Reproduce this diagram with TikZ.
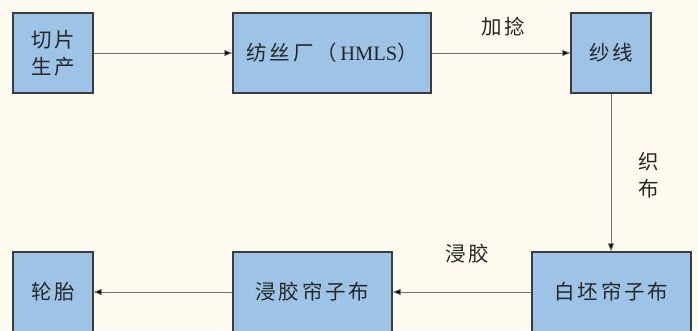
\documentclass[tikz,border=0pt]{standalone}
\usepackage{fontspec}
\newfontfamily\cjk[LetterSpace=14]{Noto Sans CJK SC}
\newfontfamily\lat{Liberation Serif}
\usetikzlibrary{arrows.meta}
\definecolor{bgc}{HTML}{FEFAF0}
\definecolor{boxfill}{HTML}{9DC3E6}
\definecolor{boxline}{HTML}{3C3C3C}
\definecolor{arrline}{HTML}{707070}
\tikzset{
  box/.style={draw=boxline, line width=1.3pt, fill=boxfill, rectangle, inner sep=0pt,
    minimum height=80pt, font=\cjk\fontsize{20.5}{27}\selectfont, align=center, text=black!85},
  flow/.style={draw=arrline, line width=0.8pt, -{Triangle[length=8pt,width=6pt,fill=black]}},
  lbl/.style={font=\cjk\fontsize{20.5}{27}\selectfont, text=black!85, inner sep=0pt, align=center}
}
\begin{document}
\begin{tikzpicture}[x=1pt,y=-1pt]
\useasboundingbox (0,0) rectangle (698,330);
\fill[bgc] (0,0) rectangle (698,330);
\clip (0,0) rectangle (698,330);
\node[box, minimum width=80pt] (qp) at (53,53) {切片\\生产};
\node[box, minimum width=198pt] (fs) at (332,53) {纺丝厂（\,{\lat HMLS}）};
\node[box, minimum width=80pt] (sx) at (611,53) {纱线};
\node[box, minimum width=159pt] (bp) at (611.5,292) {白坯帘子布};
\node[box, minimum width=159pt] (jj) at (312.5,292) {浸胶帘子布};
\node[box, minimum width=80pt] (lt) at (53,292) {轮胎};
\draw[flow] (qp.east) -- (fs.west);
\draw[flow] (fs.east) -- (sx.west);
\draw[flow] (sx.south) -- (bp.north -| sx.south);
\draw[flow] (bp.west) -- (jj.east);
\draw[flow] (jj.west) -- (lt.east);
\node[lbl] (l1) at (503,27) {加捻};
\node[lbl] (l2) at (649,175) {织\\布};
\node[lbl] (l3) at (467,254) {浸胶};
\end{tikzpicture}
\end{document}
